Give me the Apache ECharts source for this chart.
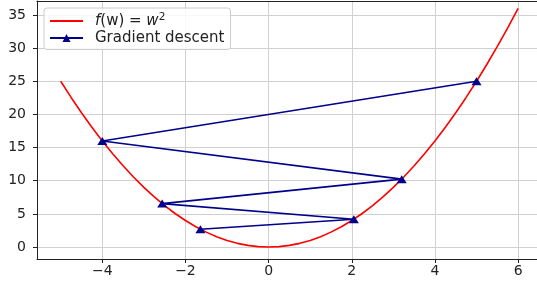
<!DOCTYPE html>
<html>
<head>
<meta charset="utf-8">
<script src="https://cdn.jsdelivr.net/npm/echarts@6/dist/echarts.min.js"></script>
<style>html,body{margin:0;padding:0;background:#fff;}#c{width:537px;height:284px;}</style>
</head>
<body>
<div id="c"></div>
<script>
// f(w) = w^2 curve
const curveW = [-5, -4.75, -4.5, -4.25, -4, -3.75, -3.5, -3.25, -3, -2.75, -2.5, -2.25, -2, -1.75, -1.5, -1.25, -1, -0.75, -0.5, -0.25, 0, 0.25, 0.5, 0.75, 1, 1.25, 1.5, 1.75, 2, 2.25, 2.5, 2.75, 3, 3.25, 3.5, 3.75, 4, 4.25, 4.5, 4.75, 5, 5.25, 5.5, 5.75, 6];
const curveF = [25, 22.56, 20.25, 18.06, 16, 14.06, 12.25, 10.56, 9, 7.56, 6.25, 5.06, 4, 3.06, 2.25, 1.56, 1, 0.56, 0.25, 0.06, 0, 0.06, 0.25, 0.56, 1, 1.56, 2.25, 3.06, 4, 5.06, 6.25, 7.56, 9, 10.56, 12.25, 14.06, 16, 18.06, 20.25, 22.56, 25, 27.56, 30.25, 33.06, 36];
// gradient descent steps
const gdW = [5, -4, 3.2, -2.56, 2.05, -1.64];
const gdF = [25, 16, 10.24, 6.55, 4.19, 2.68];
const seriesNames = ['f(w) = w^2', 'Gradient descent'];

const FONT = 'DejaVu Sans';
const fmtNum = v => v < 0 ? '\u2212' + (-v) : String(v);

const chart = echarts.init(document.getElementById('c'), null, {renderer: 'canvas'});
chart.setOption({
  animation: false,
  backgroundColor: '#ffffff',
  grid: {left: 37, top: 1, width: 504, height: 258, outerBoundsMode: 'none', containLabel: false, show: false},
  xAxis: [{
    type: 'value', min: -5.57, max: 6.55, splitNumber: 6,
    axisLine: {show: true, onZero: false, lineStyle: {color: '#222', width: 1}},
    axisTick: {show: true, inside: false, length: 4, lineStyle: {color: '#222'}},
    axisLabel: {show: true, margin: 5, showMinLabel: false, showMaxLabel: false, color: '#222', fontFamily: FONT, fontSize: 14, formatter: fmtNum},
    splitLine: {show: true, showMinLine: false, showMaxLine: false, lineStyle: {color: '#d0d0d0', width: 1}}
  }, {
    type: 'value', position: 'top', min: -5.57, max: 6.55,
    axisLine: {show: true, onZero: false, lineStyle: {color: '#222', width: 1}},
    axisTick: {show: false}, axisLabel: {show: false}, splitLine: {show: false}
  }],
  yAxis: {
    type: 'value', min: -1.8, max: 37.1, splitNumber: 8,
    axisLine: {show: true, onZero: false, lineStyle: {color: '#222', width: 1}},
    axisTick: {show: true, inside: false, length: 4, lineStyle: {color: '#222'}},
    axisLabel: {show: true, margin: 11, showMinLabel: false, showMaxLabel: false, color: '#222', fontFamily: FONT, fontSize: 14, formatter: fmtNum},
    splitLine: {show: true, showMinLine: false, showMaxLine: false, lineStyle: {color: '#d0d0d0', width: 1}}
  },
  legend: {
    show: true, orient: 'vertical', left: 44, top: 8,
    padding: [4, 6, 4, 5], itemGap: 2, itemWidth: 33, itemHeight: 10,
    backgroundColor: 'rgba(255,255,255,0.85)', borderColor: '#cccccc', borderWidth: 1, borderRadius: 3,
    data: [
      {name: seriesNames[0], itemStyle: {opacity: 0}},
      {name: seriesNames[1]}
    ],
    textStyle: {fontFamily: FONT, fontSize: 15, color: '#222', padding: [0, 0, 0, 7],
      rich: {
        i: {fontFamily: FONT, fontSize: 15, fontStyle: 'italic', color: '#222', lineHeight: 18},
        n: {fontFamily: FONT, fontSize: 15, color: '#222', lineHeight: 18},
        sup: {fontFamily: FONT, fontSize: 10.5, color: '#222', verticalAlign: 'top', lineHeight: 12}
      }
    },
    formatter: name => name === seriesNames[0] ? '{i|f}{n|(w) = }{i|w}{sup|2}' : '{n|' + name + '}'
  },
  series: [
    {
      name: seriesNames[0], type: 'line', symbol: 'none', smooth: false,
      data: curveW.map((w, i) => [w, curveF[i]]),
      lineStyle: {color: '#ff0000', width: 1.6}, itemStyle: {color: '#ff0000'}, z: 2
    },
    {
      name: seriesNames[1], type: 'line', symbol: 'triangle', symbolSize: [10, 8], showSymbol: true,
      data: gdW.map((w, i) => [w, gdF[i]]),
      lineStyle: {color: '#00008b', width: 1.6}, itemStyle: {color: '#00008b'}, z: 3
    }
  ]
});
</script>
</body>
</html>
